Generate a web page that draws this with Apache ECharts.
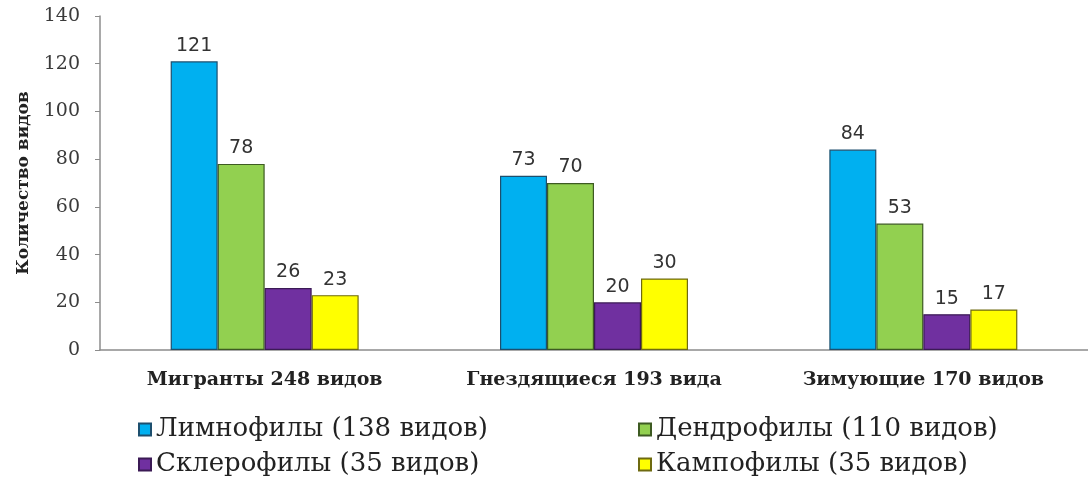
<!DOCTYPE html>
<html>
<head>
<meta charset="utf-8">
<script src="https://cdn.jsdelivr.net/npm/echarts@6/dist/echarts.min.js"></script>
<style>
  html, body { margin: 0; padding: 0; background: #fff; }
  #chart { width: 1088px; height: 477px; }
</style>
</head>
<body>
<div id="chart"></div>
<script>
const categories = ['Мигранты 248 видов', 'Гнездящиеся 193 вида', 'Зимующие 170 видов']
const seriesNames = ['Лимнофилы (138 видов)', 'Дендрофилы (110 видов)', 'Склерофилы (35 видов)', 'Кампофилы (35 видов)']
const limnophiles = [121, 73, 84]
const dendrophiles = [78, 70, 53]
const sclerophiles = [26, 20, 15]
const campophiles = [23, 30, 17]
const yTicks = [0, 20, 40, 60, 80, 100, 120, 140]

const COLORS = [
  { fill: '#00b0f0', border: '#1d4f6e' },
  { fill: '#92d050', border: '#3d5a22' },
  { fill: '#7030a0', border: '#3b1a55' },
  { fill: '#ffff00', border: '#6e6a10' },
]
const SERIF = 'DejaVu Serif, Liberation Serif, serif'
const SANS = 'DejaVu Sans, Liberation Sans, sans-serif'

const chart = echarts.init(document.getElementById('chart'), null, { renderer: 'canvas' })

function bar(name, data, c) {
  return {
    name, type: 'bar', data,
    barWidth: 47, barGap: '0%',
    itemStyle: { color: c.fill, borderColor: c.border, borderWidth: 1.2 },
    label: {
      show: true, position: 'top', distance: 6,
      color: '#333', fontFamily: SANS, fontSize: 19,
    },
  }
}

const legendText = { color: '#222', fontFamily: SERIF, fontSize: 26, lineHeight: 27 }

chart.setOption({
  animation: false,
  backgroundColor: '#fff',
  grid: { left: 100, top: 16, width: 993, bottom: 127, containLabel: false },
  legend: [
    {
      data: [seriesNames[0], seriesNames[2]], orient: 'vertical',
      left: 133, top: 411, height: 80, itemGap: 8, itemWidth: 12, itemHeight: 12,
      icon: 'rect', textStyle: legendText,
    },
    {
      data: [seriesNames[1], seriesNames[3]], orient: 'vertical',
      left: 633, top: 411, height: 80, itemGap: 8, itemWidth: 12, itemHeight: 12,
      icon: 'rect', textStyle: legendText,
    },
  ],
  xAxis: {
    type: 'category', data: categories,
    axisLine: { lineStyle: { color: '#8c8c8c', width: 1.5 } },
    axisTick: { show: false },
    axisLabel: {
      interval: 0, margin: 21, color: '#222', fontWeight: 'bold',
      fontFamily: SERIF, fontSize: 19,
    },
  },
  yAxis: {
    type: 'value', min: yTicks[0], max: yTicks[yTicks.length - 1], interval: 20,
    name: 'Количество видов', nameLocation: 'middle', nameGap: 68,
    nameTextStyle: {
      color: '#222', fontWeight: 'bold',
      fontFamily: SERIF, fontSize: 17,
    },
    axisLine: { show: true, lineStyle: { color: '#8c8c8c', width: 1.5 } },
    axisTick: { show: true, length: 5, lineStyle: { color: '#8c8c8c' } },
    axisLabel: {
      margin: 20, color: '#3a3a3a',
      fontFamily: SERIF, fontSize: 19,
    },
    splitLine: { show: false },
  },
  series: [
    bar(seriesNames[0], limnophiles, COLORS[0]),
    bar(seriesNames[1], dendrophiles, COLORS[1]),
    bar(seriesNames[2], sclerophiles, COLORS[2]),
    bar(seriesNames[3], campophiles, COLORS[3]),
  ],
})
</script>
</body>
</html>
